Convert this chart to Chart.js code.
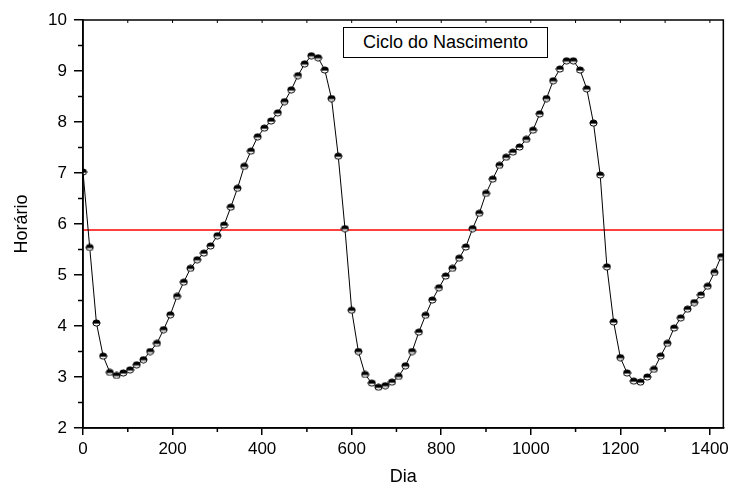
<!DOCTYPE html>
<html><head><meta charset="utf-8">
<script src="https://cdn.jsdelivr.net/npm/chart.js@4.4.0/dist/chart.umd.min.js"></script>
<style>
html,body{margin:0;padding:0;background:#fff;}
#wrap{position:relative;width:733px;height:488px;}
#legend{position:absolute;left:343px;top:27px;width:205px;height:31px;border:1.5px solid #000;box-sizing:border-box;font:18px "Liberation Sans",Arial,sans-serif;color:#000;display:flex;align-items:center;justify-content:center;background:#fff;}
</style></head><body>
<div id="wrap"><canvas id="c" width="733" height="488"></canvas><div id="legend">Ciclo do Nascimento</div></div>
<script>
// ---- data ----
const days = [0,15,30,45,60,75,90,105,120,135,150,165,180,195,210,225,240,255,270,285,
  300,315,330,345,360,375,390,405,420,435,450,465,480,495,510,525,540,555,570,585,
  600,615,630,645,660,675,690,705,720,735,750,765,780,795,810,825,840,855,870,885,
  900,915,930,945,960,975,990,1005,1020,1035,1050,1065,1080,1095,1110,1125,1140,1155,1170,1185,
  1200,1215,1230,1245,1260,1275,1290,1305,1320,1335,1350,1365,1380,1395,1410,1425];
const horario = [7.02,5.54,4.06,3.41,3.09,3.03,3.08,3.14,3.24,3.34,3.50,3.66,3.93,4.22,4.58,4.86,5.13,5.30,5.43,5.57,
  5.77,5.98,6.33,6.70,7.13,7.43,7.71,7.88,8.02,8.18,8.40,8.63,8.91,9.14,9.30,9.26,9.02,8.46,7.33,5.91,
  4.31,3.50,3.05,2.88,2.80,2.83,2.90,3.01,3.22,3.50,3.88,4.21,4.51,4.75,4.98,5.13,5.33,5.55,5.91,6.21,
  6.60,6.88,7.15,7.31,7.41,7.51,7.66,7.84,8.16,8.46,8.81,9.04,9.20,9.20,9.02,8.65,7.98,6.96,5.16,4.08,
  3.38,3.08,2.92,2.90,3.00,3.15,3.41,3.66,3.96,4.16,4.33,4.46,4.61,4.78,5.05,5.36];
const referenceLevel = 5.88;
const xRange = [0, 1430];
const yRange = [2, 10];
const xTickValues = [0,200,400,600,800,1000,1200,1400];
const yTickValues = [2,3,4,5,6,7,8,9,10];
const xMinorTicks = [100,300,500,700,900,1100,1300];
const xTopTicks = [100,200,300,400,500,600,700,800,900,1000,1100,1200,1300,1400];
const yMinorTicks = [2.5,3.5,4.5,5.5,6.5,7.5,8.5,9.5];

// ---- half-filled circle marker ----
function makeMarker(){
  const c = document.createElement('canvas');
  c.width = 9; c.height = 8;
  const g = c.getContext('2d');
  g.beginPath(); g.ellipse(4.5,4,3.6,3.1,0,0,Math.PI*2);
  g.fillStyle='#fff'; g.fill();
  g.save(); g.clip(); g.fillStyle='#000'; g.fillRect(0,0,9,4.6); g.restore();
  g.lineWidth=1; g.strokeStyle='#000'; g.stroke();
  return c;
}
const marker = makeMarker();

const points = days.map((d,i)=>({x:d,y:horario[i]}));
const refLine = [{x:xRange[0],y:referenceLevel},{x:xRange[1],y:referenceLevel}];

const FONT = "'Liberation Sans', Arial, sans-serif";

const extraTicks = {
  id:'extraTicks',
  afterDraw(chart){
    const {ctx, chartArea:a, scales:{x,y}} = chart;
    ctx.save();
    ctx.strokeStyle='#000'; ctx.lineWidth=1.5;
    ctx.beginPath();
    for(const v of xMinorTicks){const p=x.getPixelForValue(v); ctx.moveTo(p,a.bottom); ctx.lineTo(p,a.bottom+4);}
    for(const v of yMinorTicks){const p=y.getPixelForValue(v); ctx.moveTo(a.left-5,p); ctx.lineTo(a.left,p);}
    ctx.stroke();
    ctx.lineWidth=1;
    ctx.beginPath();
    for(const v of xTopTicks){const p=x.getPixelForValue(v); ctx.moveTo(p,a.top); ctx.lineTo(p,a.top+3);}
    ctx.stroke();
    ctx.lineWidth=1.5;
    ctx.strokeRect(a.left,a.top,a.right-a.left,a.bottom-a.top);
    ctx.restore();
  }
};

new Chart(document.getElementById('c'), {
  type:'scatter',
  data:{datasets:[
    {label:'Ciclo do Nascimento', data:points, showLine:true, borderColor:'#000', borderWidth:1,
     pointStyle:marker, pointRadius:4, pointHoverRadius:4, order:1},
    {label:'ref', data:refLine, showLine:true, borderColor:'#ff0000', borderWidth:1.5, pointRadius:0, order:2}
  ]},
  options:{
    responsive:false, animation:false, devicePixelRatio:1,
    layout:{padding:{left:0,top:20,right:9,bottom:0}},
    plugins:{legend:{display:false}, tooltip:{enabled:false}},
    scales:{
      x:{type:'linear', min:xRange[0], max:xRange[1],
         afterBuildTicks(s){s.ticks = xTickValues.map(v=>({value:v}));},
         ticks:{color:'#000', font:{family:FONT,size:17}, padding:4, maxRotation:0, autoSkip:false,
                callback:v=>String(v)},
         grid:{drawOnChartArea:false, color:'#000', lineWidth:1.5, tickLength:7},
         border:{display:true, color:'#000', width:1.5},
         title:{display:true, text:'Dia', color:'#000', font:{family:FONT,size:18}, padding:{top:0,bottom:0}},
         afterFit(s){s.height=60;}
      },
      y:{type:'linear', min:yRange[0], max:yRange[1],
         afterBuildTicks(s){s.ticks = yTickValues.map(v=>({value:v}));},
         ticks:{color:'#000', font:{family:FONT,size:17}, padding:7, autoSkip:false, callback:v=>String(v)},
         grid:{drawOnChartArea:false, color:'#000', lineWidth:1.5, tickLength:9},
         border:{display:true, color:'#000', width:1.5},
         title:{display:true, text:'Horário', color:'#000', font:{family:FONT,size:18}, padding:{top:11,bottom:0}},
         afterFit(s){s.width=83;}
      }
    }
  },
  plugins:[extraTicks]
});
</script>
</body></html>
